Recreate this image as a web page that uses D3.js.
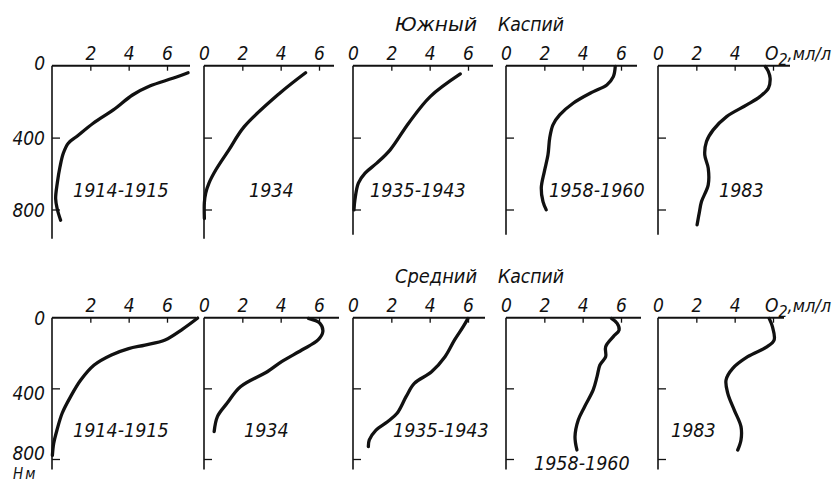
<!DOCTYPE html>
<html>
<head>
<meta charset="utf-8">
<script src="https://cdn.jsdelivr.net/npm/d3@7"></script>
<style>
  html, body { margin: 0; padding: 0; background: #fff; }
  svg text { font-family: 'DejaVu Sans Condensed', 'Liberation Sans', sans-serif; font-style: italic; fill: #111; }
</style>
</head>
<body>
<div id="viz"></div>
<script>
// periods (one panel per period), same for both rows
var periods = ['1914-1915', '1934', '1935-1943', '1958-1960', '1983'];
var o2Ticks = [0, 2, 4, 6];
var depthTicks = [0, 400, 800];
var titles = ['Южный', 'Каспий', 'Средний', 'Каспий'];

// O2 (ml/l), depth (m) -- South Caspian
var south1914 = [[7.1,39],[6.3,70],[5.1,113],[4.2,163],[3.2,246],[2.15,320],[1.29,394],[0.85,431],[0.59,487],[0.42,561],[0.28,650],[0.19,740],[0.28,800],[0.45,860]];
var south1934 = [[5.3,39],[3.95,153],[2.1,339],[1.3,468],[0.62,579],[0.26,653],[0.09,709],[0.02,760],[0.02,850]];
var south1935 = [[5.6,46],[4.03,172],[2.9,320],[1.94,468],[1.24,542],[0.63,598],[0.28,653],[0.1,746],[0.05,802]];
var south1958 = [[5.7,4],[5.6,61],[5.26,107],[4.56,144],[3.5,209],[2.8,274],[2.45,329],[2.28,403],[2.19,496],[2.0,589],[1.84,681],[1.93,756],[2.1,802]];
var south1983 = [[5.6,4],[5.75,30],[5.85,70],[5.76,126],[5.32,172],[4.63,218],[3.58,283],[2.88,357],[2.53,422],[2.44,496],[2.62,570],[2.62,663],[2.27,756],[2.15,820],[2.04,885]];

// Middle Caspian
var middle1914 = [[7.6,2],[6.8,66],[5.9,126],[4.85,155],[4.0,175],[3.1,211],[2.2,268],[1.5,353],[0.97,447],[0.53,541],[0.26,636],[0.09,711],[0.02,780]];
var middle1934 = [[5.45,4],[6.05,32],[6.2,79],[5.95,126],[5.1,183],[4.05,249],[3.3,306],[1.9,391],[1.2,485],[0.7,560],[0.53,645]];
var middle1935 = [[6.0,4],[5.75,51],[5.3,126],[4.8,221],[4.1,306],[3.2,372],[2.77,447],[2.3,541],[1.8,589],[1.2,636],[0.85,692],[0.8,730]];
var middle1958 = [[5.5,4],[5.8,32],[5.9,70],[5.6,107],[5.2,164],[5.2,221],[4.9,268],[4.75,334],[4.55,409],[4.1,504],[3.77,579],[3.6,674],[3.7,749]];
var middle1983 = [[5.8,4],[5.97,51],[6.06,126],[5.7,164],[4.68,221],[3.9,287],[3.55,353],[3.64,428],[3.98,523],[4.33,617],[4.33,692],[4.16,749]];

var w = 840, h = 488;
var panelX = [52, 204, 353, 506, 658];

var rows = [
  { title: [titles[0], titles[1]], titleY: 31, y0: 65.7, y800: 209.5,
    series: [south1914, south1934, south1935, south1958, south1983],
    axisLen: [138, 130, 140, 131, 132], depthEnd: [963, 963, 941, 941, 941],
    labelDx: [21, 45, 17, 43, 61], labelY: [197, 197, 197, 197, 197],
    depthDy: ['0.2em', '0.38em', '0.38em'] },
  { title: [titles[2], titles[3]], titleY: 283, y0: 317.7, y800: 459,
    series: [middle1914, middle1934, middle1935, middle1958, middle1983],
    axisLen: [144, 135, 132, 135, 126], depthEnd: [860, 860, 860, 860, 860],
    labelDx: [21, 40, 40, 28, 13], labelY: [437, 437, 437, 470, 437],
    depthDy: ['0.35em', '0.6em', '0.04em'] }
];

var svg = d3.select('#viz').append('svg')
  .attr('width', w)
  .attr('height', h);

svg.append('rect').attr('width', w).attr('height', h).attr('fill', '#fff');

rows.forEach(function (row, r) {
  // title, two words with a wide gap
  svg.append('text')
    .attr('x', 395).attr('y', row.titleY)
    .attr('textLength', 82).attr('lengthAdjust', 'spacingAndGlyphs')
    .style('font-size', '20px')
    .text(row.title[0]);
  svg.append('text')
    .attr('x', 498).attr('y', row.titleY)
    .attr('textLength', 66).attr('lengthAdjust', 'spacingAndGlyphs')
    .style('font-size', '20px')
    .text(row.title[1]);

  var y = d3.scaleLinear().domain([0, 800]).range([row.y0, row.y800]);

  periods.forEach(function (period, i) {
    var x0 = panelX[i];
    var x = d3.scaleLinear().domain([0, 6]).range([x0, x0 + 115]);
    var g = svg.append('g');

    // top (O2) axis line
    g.append('line')
      .attr('x1', x0).attr('x2', x0 + row.axisLen[i])
      .attr('y1', y(0)).attr('y2', y(0))
      .attr('stroke', '#111').attr('stroke-width', 2);

    // depth axis line
    g.append('line')
      .attr('x1', x0).attr('x2', x0)
      .attr('y1', y(0)).attr('y2', y(row.depthEnd[i]))
      .attr('stroke', '#111').attr('stroke-width', 1.6);

    var xt = i === 0 ? o2Ticks.slice(1) : o2Ticks;
    var xAxis = g.append('g')
      .attr('transform', 'translate(0,' + y(0) + ')')
      .call(d3.axisTop(x).tickValues(xt).tickSize(-5).tickPadding(6)
        .tickFormat(function (d) { return (i === 4 && d === 6) ? '' : d; }));
    xAxis.select('.domain').remove();
    xAxis.selectAll('line').attr('stroke', '#111').attr('stroke-width', 1.3);
    xAxis.selectAll('text')
      .attr('font-family', null).attr('font-size', null)
      .style('font-size', '19px').attr('fill', '#111');
    xAxis.selectAll('.tick').filter(function (d) { return d === 0; }).select('line').remove();

    if (i === 4) {
      var t = g.append('text')
        .attr('x', x(6) - 8)
        .attr('y', y(0) - 6)
        .style('font-size', '19px');
      t.append('tspan').text('O');
      t.append('tspan').attr('dy', 5).style('font-size', '16px').text('2');
      t.append('tspan').attr('dy', -5).style('font-size', '18px').text(',мл/л');
    }

    var yAxis = g.append('g')
      .attr('transform', 'translate(' + x0 + ',0)')
      .call(d3.axisRight(y).tickValues([400, 800]).tickSize(8).tickFormat(''));
    yAxis.select('.domain').remove();
    yAxis.selectAll('line').attr('stroke', '#111').attr('stroke-width', 1.3);

    if (i === 0) {
      var yLab = g.append('g')
        .attr('transform', 'translate(' + (x0 - 5) + ',0)')
        .call(d3.axisLeft(y).tickValues(depthTicks).tickSize(0).tickPadding(2));
      yLab.select('.domain').remove();
      yLab.selectAll('text')
        .attr('font-family', null).attr('font-size', null)
        .style('font-size', '19px').attr('fill', '#111')
        .attr('dy', function (d, k) { return row.depthDy[k]; });
    }

    var line = d3.line()
      .x(function (d) { return x(d[0]); })
      .y(function (d) { return y(d[1]); })
      .curve(d3.curveCatmullRom.alpha(0.5));

    g.append('path')
      .datum(row.series[i])
      .attr('d', line)
      .attr('fill', 'none')
      .attr('stroke', '#111')
      .attr('stroke-width', 3.3)
      .attr('stroke-linecap', 'round')
      .attr('stroke-linejoin', 'round');

    g.append('text')
      .attr('x', x0 + row.labelDx[i])
      .attr('y', row.labelY[i])
      .style('font-size', '19.5px')
      .text(period);
  });
});

// depth unit under the lower left axis
svg.append('text')
  .attr('x', 13)
  .attr('y', 479)
  .style('font-size', '15px')
  .style('letter-spacing', '2px')
  .text('Нм');
</script>
</body>
</html>
